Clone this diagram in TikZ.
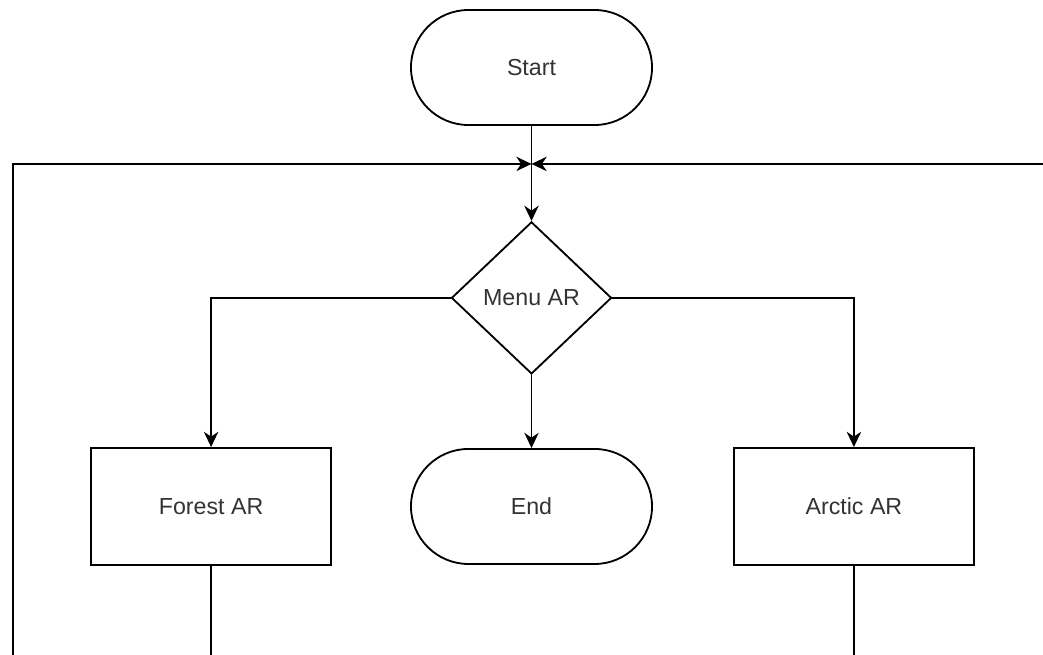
\documentclass[tikz,border=0pt]{standalone}
\usepackage{fontspec}
\setmainfont{Liberation Sans}
\usetikzlibrary{arrows.meta,positioning,shapes.geometric}

\begin{document}
\begin{tikzpicture}[
  x=0.025cm, y=-0.025cm, line width=1.3pt,
  term/.style={draw, rounded corners=1.4375cm, minimum width=6.025cm,
               minimum height=2.875cm, align=center, text=black!80,
               font=\fontsize{16.5}{20}\selectfont},
  proc/.style={draw, minimum width=6cm, minimum height=2.925cm,
               align=center, text=black!80, font=\fontsize{16.5}{20}\selectfont},
  choice/.style={draw, diamond, minimum width=4cm, minimum height=3.8cm,
                 inner sep=0pt, text=black!80, font=\fontsize{16.5}{20}\selectfont},
  arr/.style={-{Stealth[length=3.8mm, width=3.6mm, inset=1.2mm]}}
]
  % page frame
  \clip (0,0) rectangle (1043,655);

  % Start
  \node[term] (start) at (531.5,67.5) {Start};
  % join point of the loops
  \coordinate[below=0.95cm of start] (join);
  % Menu
  \node[choice, below=2.375cm of start] (menu) {Menu AR};
  % End
  \node[term, below=1.83cm of menu] (end) {End};
  % Scenes
  \node[proc, left=1.95cm of end] (forest) {Forest AR};
  \node[proc, right=2cm of end] (arctic) {Arctic AR};

  % return columns
  \coordinate[left=4.95cm of forest.center] (lcol);
  \coordinate[right=6cm of arctic.center] (rcol);

  \draw[arr] (start) -- (menu);
  \draw[arr] (menu.west) -| (forest.north);
  \draw[arr] (menu.south) -- (end.north);
  \draw[arr] (menu.east) -| (arctic.north);

  % back to menu
  \draw[arr] (forest.south) -- ++(0,150) -| (lcol) |- (join);
  \draw[arr] (arctic.south) -- ++(0,150) -| (rcol) |- (join);
\end{tikzpicture}
\end{document}
